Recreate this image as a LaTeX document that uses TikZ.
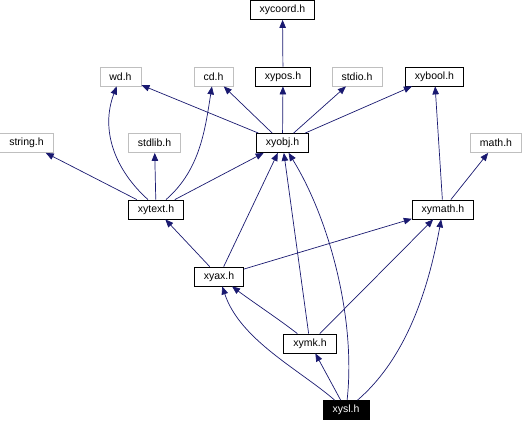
\documentclass[tikz,border=0pt]{standalone}
\usepackage{fontspec}
\setmainfont{Liberation Sans}
\usepackage{xcolor}
\usetikzlibrary{arrows.meta}

\definecolor{edgeblue}{HTML}{191970}
\definecolor{missgray}{HTML}{BFBFBF}

\tikzset{
  hdr/.style={draw=black,line width=0.8pt,inner xsep=9.5pt,inner ysep=0pt,
    minimum height=19pt,font=\fontsize{10.5}{12}\selectfont},
  syshdr/.style={hdr,draw=missgray},
  curhdr/.style={hdr,fill=black,text=white},
  dep/.style={draw=edgeblue,line width=0.7pt,-{Triangle[length=8pt,width=6.5pt]}}
}

\begin{document}
\begin{tikzpicture}[x=1pt,y=-1pt]
  \useasboundingbox (0,0) rectangle (522,421);
  % headers
  \node[hdr]    (xycoord) at (282.5,10)   {xycoord.h};
  \node[syshdr] (wd)      at (120.5,76.5) {wd.h};
  \node[syshdr] (cd)      at (213.5,76.5) {cd.h};
  \node[hdr]    (xypos)   at (283,76.5)   {xypos.h};
  \node[syshdr] (stdio)   at (357,76.5)   {stdio.h};
  \node[hdr]    (xybool)  at (434.5,76.5) {xybool.h};
  \node[syshdr] (string)  at (26.5,143)   {string.h};
  \node[syshdr] (stdlib)  at (154.5,143)  {stdlib.h};
  \node[hdr]    (xyobj)   at (282.5,143)  {xyobj.h};
  \node[syshdr] (math)    at (496,143)    {math.h};
  \node[hdr]    (xytext)  at (156,209.5)  {xytext.h};
  \node[hdr]    (xymath)  at (443,209.5)  {xymath.h};
  \node[hdr]    (xyax)    at (219,276.5)  {xyax.h};
  \node[hdr]    (xymk)    at (310,343.5)  {xymk.h};
  \node[curhdr] (xysl)    at (346,410)    {xysl.h};

  % include edges
  \draw[dep] (xypos) -- (xycoord);
  \foreach \t in {wd,cd,xypos,stdio,xybool}
    \draw[dep] (xyobj) -- (\t);
  \draw[dep] (xytext) -- (string);
  \draw[dep] (xytext) -- (stdlib);
  \draw[dep] (xytext) -- (xyobj);
  \draw[dep] (xytext.north west) ++(20,0) .. controls (115,170) and (100,130) .. (wd);
  \draw[dep] (xytext.north) ++(10,0) .. controls (200,170) and (205,130) .. (cd);
  \draw[dep] (xymath) -- (xybool);
  \draw[dep] (xymath) -- (math);
  \draw[dep] (xyax) -- (xytext);
  \draw[dep] (xyax) -- (xyobj);
  \draw[dep] (xyax) -- (xymath);
  \draw[dep] (xymk) .. controls (280,320) and (250,300) .. (xyax);
  \draw[dep] (xymk) -- (xyobj);
  \draw[dep] (xymk) -- (xymath);
  \draw[dep] (xysl) .. controls (300,370) and (240,340) .. (xyax);
  \draw[dep] (xysl) -- (xymk);
  \draw[dep] (xysl) .. controls (356,320) and (330,220) .. (xyobj);
  \draw[dep] (xysl) .. controls (410,355) and (430,280) .. (xymath);
\end{tikzpicture}
\end{document}
